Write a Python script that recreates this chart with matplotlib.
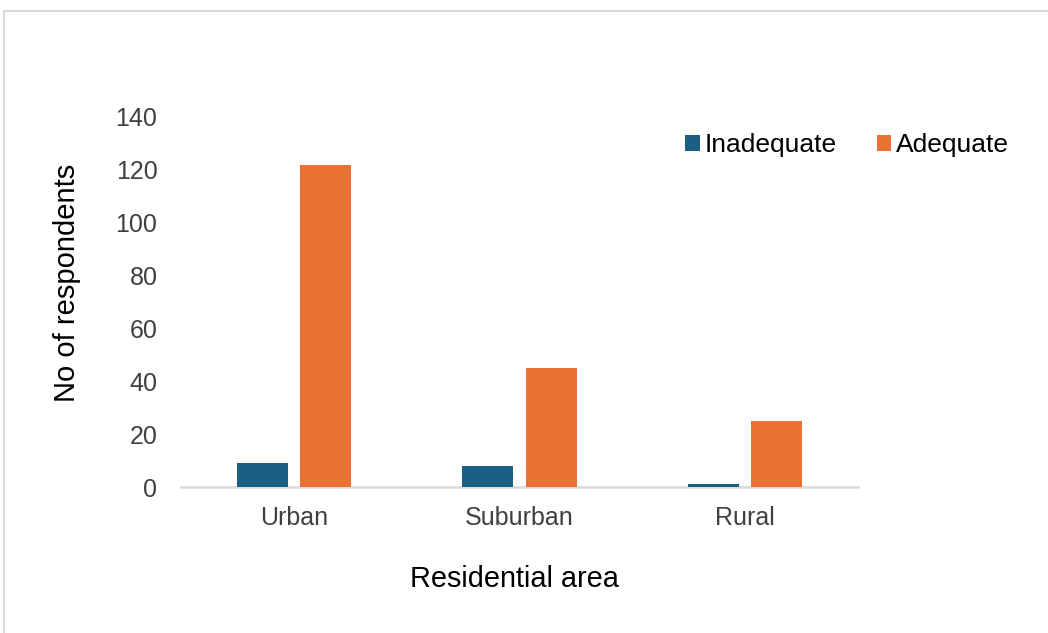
import matplotlib.pyplot as plt
import matplotlib.patches as mpatches
import numpy as np

areas = ["Urban", "Suburban", "Rural"]
inadequate = [9, 8, 1]
adequate = [122, 45, 25]
yticks = [0, 20, 40, 60, 80, 100, 120, 140]

C_INAD = "#1b6083"
C_ADEQ = "#e97132"

plt.rcParams["font.family"] = ["Liberation Sans", "DejaVu Sans"]

fig = plt.figure(figsize=(10.48, 6.33), dpi=100)
ax = fig.add_axes([0.1727, 0.2306, 0.6460, 0.5846])

x = np.arange(len(areas))
w = 0.226
off = 0.141
ax.bar(x - off, inadequate, width=w, color=C_INAD, label="Inadequate", zorder=3)
ax.bar(x + off, adequate, width=w, color=C_ADEQ, label="Adequate", zorder=3)

ax.set_xlim(-0.5, 2.5)
ax.set_ylim(0, 140)
ax.set_yticks(yticks)
ax.set_xticks(x)
ax.set_xticklabels(areas)
ax.tick_params(axis="both", length=0, labelsize=18, labelcolor="#404040")
ax.tick_params(axis="y", pad=17)
ax.tick_params(axis="x", pad=14)

for s in ["top", "right", "left"]:
    ax.spines[s].set_visible(False)
ax.spines["bottom"].set_color("#d9d9d9")
ax.spines["bottom"].set_linewidth(1.8)

ax.set_xlabel("Residential area", fontsize=20.8)
ax.xaxis.set_label_coords(0.492, -0.211)
ax.set_ylabel("No of respondents", fontsize=21)
ax.yaxis.set_label_coords(-0.147, 0.551)

leg = fig.legend(loc="center left", bbox_to_anchor=(0.631, 0.771), ncol=2,
                 frameon=False, fontsize=19, handlelength=0.55, handleheight=0.55,
                 handletextpad=0.2, columnspacing=1.5)

# outer chart frame
frame = mpatches.Rectangle((4 / 1048, -0.05), 1.2, 1 - 11 / 633 + 0.05,
                           transform=fig.transFigure, fill=False,
                           edgecolor="#d9d9d9", linewidth=1.5, clip_on=False)
fig.patches.append(frame)

fig.savefig("out.png", dpi=100)
